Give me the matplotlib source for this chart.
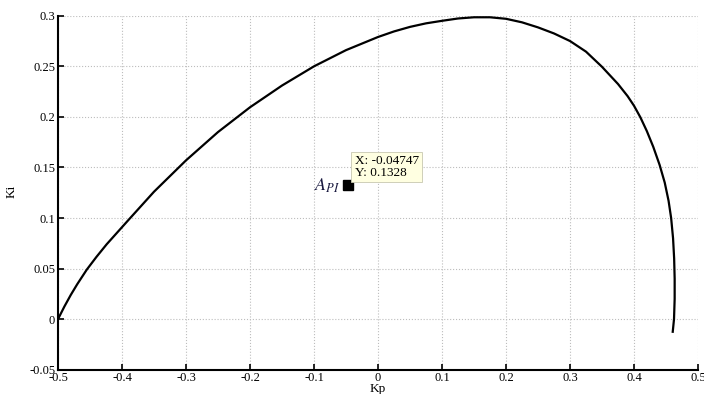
import matplotlib.pyplot as plt

# Ki vs Kp stability boundary
kp = [-0.5, -0.49, -0.48, -0.47, -0.455, -0.44, -0.424, -0.39, -0.35, -0.3,
      -0.25, -0.2, -0.15, -0.1, -0.05, 0.0, 0.025, 0.05, 0.075, 0.1,
      0.125, 0.15, 0.175, 0.2, 0.225, 0.25, 0.275, 0.3, 0.325, 0.35,
      0.375, 0.39, 0.4, 0.41, 0.42, 0.43, 0.44, 0.448, 0.454, 0.458,
      0.461, 0.4627, 0.4635, 0.4635, 0.4625, 0.4605]
ki = [0.0, 0.0125, 0.024, 0.0345, 0.049, 0.0615, 0.074, 0.098, 0.126, 0.157,
      0.185, 0.2095, 0.231, 0.250, 0.266, 0.279, 0.2845, 0.289, 0.2925, 0.295,
      0.2973, 0.2985, 0.2985, 0.297, 0.2935, 0.2885, 0.2825, 0.275, 0.2645, 0.2495,
      0.2325, 0.2205, 0.211, 0.1995, 0.186, 0.1705, 0.1525, 0.135, 0.117, 0.1,
      0.08, 0.06, 0.04, 0.02, 0.0, -0.0125]

point_x = -0.04747
point_y = 0.1328

xticks = [-0.5, -0.4, -0.3, -0.2, -0.1, 0, 0.1, 0.2, 0.3, 0.4, 0.5]
xtick_labels = ["-0.5", "-0.4", "-0.3", "-0.2", "-0.1", "0", "0.1", "0.2", "0.3", "0.4", "0.5"]
yticks = [-0.05, 0, 0.05, 0.1, 0.15, 0.2, 0.25, 0.3]
ytick_labels = ["-0.05", "0", "0.05", "0.1", "0.15", "0.2", "0.25", "0.3"]

plt.rcParams['font.family'] = ['Liberation Serif', 'DejaVu Serif']

fig = plt.figure(figsize=(7.04, 3.94), dpi=100)
ax = fig.add_axes([0.0824, 0.0617, 0.9091, 0.8983])

ax.plot(kp, ki, color='black', lw=1.6, solid_joinstyle='round')
ax.plot([point_x], [point_y], marker='s', color='black', markersize=6.5, ls='none')

# data tip label and box
ax.annotate(r"$A_{PI}$", xy=(point_x, point_y), xytext=(-5, -0.5),
            textcoords='offset points', ha='right', va='center',
            fontsize=13, color='#1a1a40', math_fontfamily='stix')
ax.annotate("X: -0.04747\nY: 0.1328", xy=(point_x, point_y), xytext=(5, 4.5),
            textcoords='offset points', fontsize=9.5, ha='left', va='bottom',
            linespacing=0.95,
            bbox=dict(boxstyle='square,pad=0.25', fc='#ffffe1', ec='#c8c8b0', lw=0.6))

ax.set_xlim(-0.5, 0.5)
ax.set_ylim(-0.05, 0.3)
ax.set_xticks(xticks)
ax.set_xticklabels(xtick_labels)
ax.set_yticks(yticks)
ax.set_yticklabels(ytick_labels)
ax.tick_params(direction='in', length=4, width=1.2, labelsize=9, pad=2)

ax.grid(True, color='#bdbdbd', linestyle=':', lw=0.8)
for s in ['top', 'right']:
    ax.spines[s].set_visible(False)
for s in ['left', 'bottom']:
    ax.spines[s].set_linewidth(1.5)

fig.text(0.0170, 0.515, "Ki", rotation=90, ha='center', va='center', fontsize=9.5)
fig.text(0.537, 0.027, "Kp", ha='center', va='top', fontsize=9.5)

fig.savefig("out.png", dpi=100)
